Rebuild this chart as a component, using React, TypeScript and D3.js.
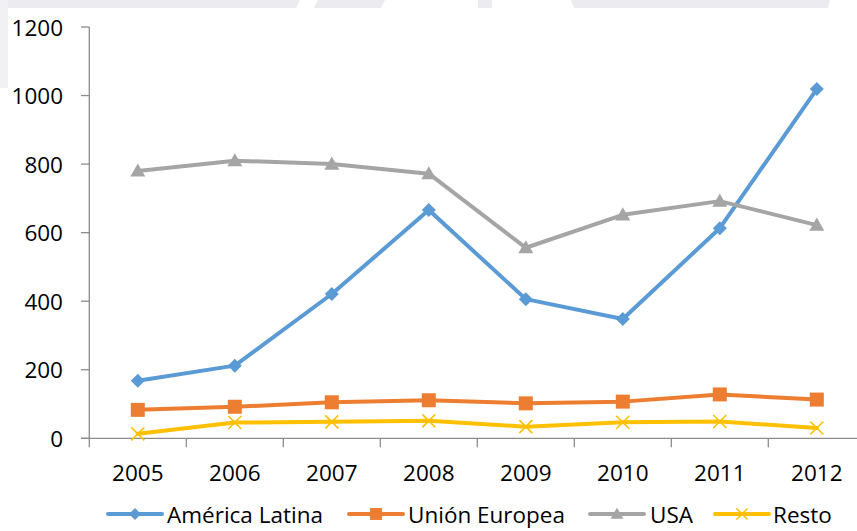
import React from "react";
import * as d3 from "d3";

const years = ["2005", "2006", "2007", "2008", "2009", "2010", "2011", "2012"];
const americaLatina = [168, 212, 421, 666, 406, 348, 613, 1019];
const unionEuropea = [83, 92, 105, 111, 102, 107, 128, 113];
const usa = [780, 810, 800, 772, 556, 652, 692, 622];
const resto = [13, 46, 48, 51, 34, 47, 49, 30];
const yTicks = [0, 200, 400, 600, 800, 1000, 1200];

const seriesNames = ["América Latina", "Unión Europea", "USA", "Resto"];
const seriesValues = [americaLatina, unionEuropea, usa, resto];
const seriesColors = ["#5b9bd5", "#ed7d31", "#a5a5a5", "#ffc000"];
const seriesMarkers = ["diamond", "square", "triangle", "cross"];

const W = 857;
const H = 531;
const FONT = "'Open Sans', 'Liberation Sans', sans-serif";

function Marker({ kind, x, y, color, legend = false }: { kind: string; x: number; y: number; color: string; legend?: boolean }) {
  const s = legend ? 0.85 : 1;
  if (kind === "diamond") {
    const r = 7 * s;
    return <path d={`M${x},${y - r}L${x + r},${y}L${x},${y + r}L${x - r},${y}Z`} fill={color} />;
  }
  if (kind === "square") {
    const r = 7 * s;
    return <rect x={x - r} y={y - r} width={2 * r} height={2 * r} fill={color} />;
  }
  if (kind === "triangle") {
    const r = 7.5 * s;
    return <path d={`M${x},${y - r}L${x + r},${y + r * 0.75}L${x - r},${y + r * 0.75}Z`} fill={color} />;
  }
  const r = 6.5 * s;
  return (
    <path
      d={`M${x - r},${y - r}L${x + r},${y + r}M${x - r},${y + r}L${x + r},${y - r}`}
      stroke={color}
      strokeWidth={1.6}
      fill="none"
    />
  );
}

export default function App() {
  const x = d3.scaleBand<string>().domain(years).range([89.3, 865.3]);
  const y = d3.scaleLinear().domain([0, 1200]).range([438.3, 27]);
  const cx = (yr: string) => (x(yr) as number) + x.bandwidth() / 2;

  const line = d3
    .line<number>()
    .x((_, i) => cx(years[i]))
    .y((v) => y(v));

  const axisColor = "#8c8c8c";
  const bandTicks = years.map((yr) => x(yr) as number).concat([x.range()[1]]);

  // legend layout: line start, text start
  const legendItems = [
    { lx: 108, tx: 167 },
    { lx: 349, tx: 408 },
    { lx: 590, tx: 650 },
    { lx: 715, tx: 773 },
  ];
  const legendY = 514;

  return (
    <svg
      width={W}
      height={H}
      style={{ position: "absolute", left: 0, top: 0, background: "#ffffff" }}
      fontFamily={FONT}
    >
      {/* faint header shapes */}
      <g fill="#ececf0">
        <path d="M0,0H300L296,8H0Z" />
        <path d="M318,0H385L381,8H314Z" />
        <rect x={478} y={0} width={14} height={8} />
        <path d="M571,0H830L828,8H574Z" />
        <rect x={0} y={0} width={8} height={88} fill="#f1f1f4" />
      </g>

      {/* y axis */}
      <line x1={89.3} x2={89.3} y1={y(1200)} y2={y(0)} stroke={axisColor} strokeWidth={1.3} />
      {yTicks.map((t) => (
        <g key={t}>
          <line x1={81} x2={89.3} y1={y(t)} y2={y(t)} stroke={axisColor} strokeWidth={1.3} />
          <text x={63} y={y(t)} textAnchor="end" dominantBaseline="central" fontSize={22.5} fill="#000">
            {t}
          </text>
        </g>
      ))}

      {/* x axis */}
      <line x1={81} x2={W} y1={y(0)} y2={y(0)} stroke={axisColor} strokeWidth={1.3} />
      {bandTicks.map((t, i) => (
        <line key={i} x1={t} x2={t} y1={y(0)} y2={y(0) + 9} stroke={axisColor} strokeWidth={1.3} />
      ))}
      {years.map((yr) => (
        <text key={yr} x={cx(yr)} y={472} textAnchor="middle" dominantBaseline="central" fontSize={22.5} fill="#000">
          {yr}
        </text>
      ))}

      {/* series lines */}
      {seriesValues.map((vals, si) => (
        <path
          key={seriesNames[si]}
          d={line(vals) as string}
          fill="none"
          stroke={seriesColors[si]}
          strokeWidth={4}
          strokeLinejoin="round"
          strokeLinecap="round"
        />
      ))}
      {seriesValues.map((vals, si) => (
        <g key={seriesNames[si] + "-m"}>
          {vals.map((v, i) => (
            <Marker key={i} kind={seriesMarkers[si]} x={cx(years[i])} y={y(v)} color={seriesColors[si]} />
          ))}
        </g>
      ))}

      {/* legend */}
      {legendItems.map((it, si) => (
        <g key={seriesNames[si] + "-leg"}>
          <line
            x1={it.lx}
            x2={it.lx + 54}
            y1={legendY}
            y2={legendY}
            stroke={seriesColors[si]}
            strokeWidth={4}
            strokeLinecap="round"
          />
          <Marker kind={seriesMarkers[si]} x={it.lx + 27} y={legendY} color={seriesColors[si]} legend />
          <text x={it.tx} y={legendY} dominantBaseline="central" fontSize={22.5} fill="#000">
            {seriesNames[si]}
          </text>
        </g>
      ))}
    </svg>
  );
}
